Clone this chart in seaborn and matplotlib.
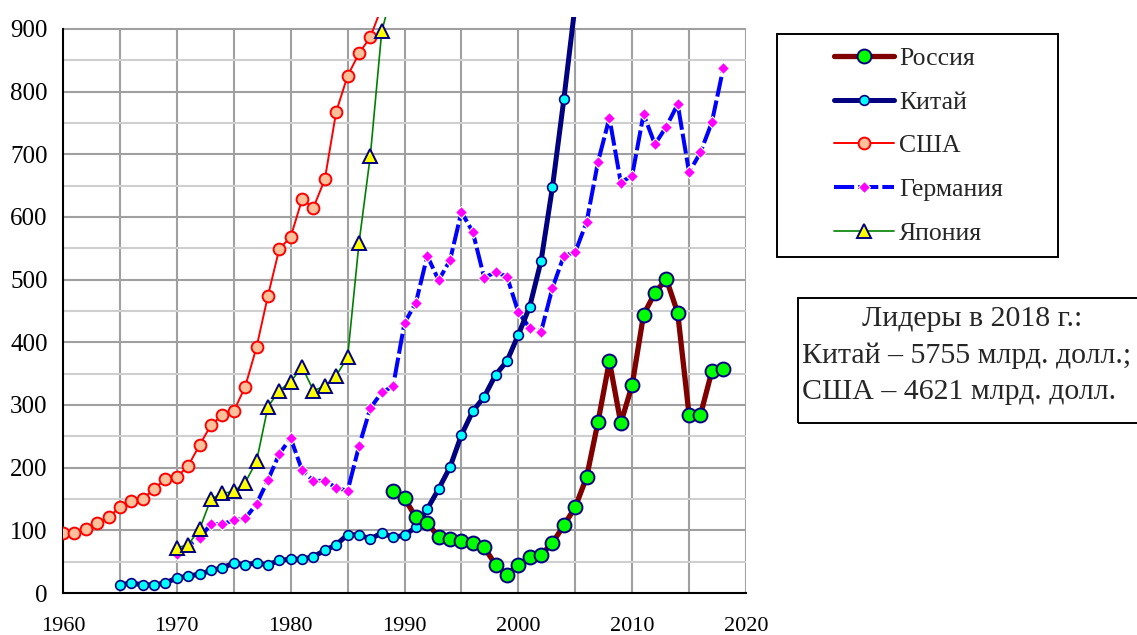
import numpy as np
import matplotlib
matplotlib.use("Agg")
import matplotlib.pyplot as plt
import seaborn as sns
from matplotlib.patches import Rectangle

# values (млрд. долл.)
years_russia = list(range(1989, 2019))
russia = [163, 151, 121, 112, 89, 86, 83, 80, 73, 45, 29, 45, 57, 61, 80,
          108, 137, 185, 273, 370, 271, 332, 444, 479, 501, 447, 284, 284, 354, 357]

years_china = list(range(1965, 2006))
china = [13, 16, 13, 13, 16, 24, 27, 30, 36, 40, 48, 45, 48, 45, 52, 54, 54, 58,
         68, 77, 93, 93, 86, 96, 89, 92, 105, 134, 166, 201, 252, 290, 313, 348,
         370, 412, 457, 530, 648, 788, 940]

years_usa = list(range(1960, 1989))
usa = [95, 96, 102, 112, 121, 137, 147, 150, 166, 182, 185, 203, 236, 268, 284,
       290, 329, 392, 474, 549, 568, 628, 615, 660, 768, 825, 861, 887, 935]

years_germany = list(range(1970, 2019))
germany = [62, 75, 88, 110, 110, 116, 119, 142, 180, 222, 247, 196, 179, 179, 168,
           163, 234, 295, 320, 330, 431, 463, 538, 499, 531, 608, 576, 503, 512,
           505, 448, 423, 417, 487, 538, 544, 592, 688, 758, 655, 666, 764, 716,
           744, 780, 671, 703, 751, 837]

years_japan = list(range(1970, 1990))
japan = [72, 77, 102, 150, 159, 162, 176, 210, 297, 323, 337, 361, 323, 330, 347,
         376, 558, 698, 896, 965]

legend_order = ["Россия", "Китай", "США", "Германия", "Япония"]

sns.set_style("white")
plt.rcParams['font.family'] = ['Liberation Serif', 'DejaVu Serif']

fig = plt.figure(figsize=(11.37, 6.35), dpi=100)
ax = fig.add_axes([63 / 1137, 1 - 593 / 635, (746 - 63) / 1137, (593 - 17.3) / 635])

# grid (stops at 900, like the reference plot area)
ax.vlines(np.arange(1965, 2021, 5), 0, 900, colors="#a0a0a0", lw=1.5, zorder=0)
ax.hlines(np.arange(100, 901, 100), 1960, 2020, colors="#a0a0a0", lw=1.5, zorder=0)
ax.hlines(np.arange(50, 900, 100), 1960, 2020, colors="#cfcfcf", lw=1.5, zorder=0)

sns.lineplot(x=years_usa, y=usa, ax=ax, color="#ff0000", lw=1.4, marker="o",
             markersize=8.5, markerfacecolor="#ffc09a", markeredgecolor="#ff0000",
             markeredgewidth=1.4, label="США", zorder=3)
sns.lineplot(x=years_germany, y=germany, ax=ax, color="#0000ff", lw=2.9,
             linestyle=(0, (5, 1)), marker="D", markersize=6,
             markerfacecolor="#ff00ff", markeredgecolor="white",
             markeredgewidth=0.8, label="Германия", zorder=4)
sns.lineplot(x=years_japan, y=japan, ax=ax, color="#008000", lw=1.2, marker="^",
             markersize=9.5, markerfacecolor="#ffff00", markeredgecolor="#000080",
             markeredgewidth=1.4, label="Япония", zorder=5)
sns.lineplot(x=years_china, y=china, ax=ax, color="#000080", lw=3.6, marker="o",
             markersize=7, markerfacecolor="#00ffff", markeredgecolor="#000080",
             markeredgewidth=1.2, label="Китай", zorder=6)
sns.lineplot(x=years_russia, y=russia, ax=ax, color="#800000", lw=3.8, marker="o",
             markersize=10, markerfacecolor="#00ff00", markeredgecolor="#000080",
             markeredgewidth=1.4, label="Россия", zorder=7)

handles, labels = ax.get_legend_handles_labels()
ax.get_legend().remove()
lookup = dict(zip(labels, handles))
fig.legend([lookup[k] for k in legend_order], legend_order, loc="upper left",
           bbox_to_anchor=(821 / 1137, 1 - 34 / 635), frameon=False,
           fontsize=18.5, borderpad=0, handlelength=2.33, handletextpad=0.2,
           labelspacing=0.81)
fig.patches.append(Rectangle((777 / 1137, 1 - 257 / 635), (1058 - 777) / 1137,
                             (257 - 34) / 635, transform=fig.transFigure,
                             fill=False, ec="black", lw=1.4))

# box with the 2018 leaders
fig.patches.append(Rectangle((798 / 1137, 1 - 423 / 635), (1145 - 798) / 1137,
                             (423 - 298) / 635, transform=fig.transFigure,
                             fill=False, ec="black", lw=1.4))
fig.text(972 / 1137, 1 - 319 / 635, "Лидеры в 2018 г.:", ha="center", va="center",
         fontsize=21.5)
fig.text(802 / 1137, 1 - 356 / 635, "Китай – 5755 млрд. долл.;", ha="left",
         va="center", fontsize=21.5)
fig.text(802 / 1137, 1 - 392 / 635, "США – 4621 млрд. долл.", ha="left",
         va="center", fontsize=21.5)

ax.set_xlim(1960, 2020)
ax.set_ylim(0, 918.6)
ax.set_xticks(range(1960, 2021, 10))
ax.set_yticks(range(0, 901, 100))
for side in ["top", "right"]:
    ax.spines[side].set_visible(False)
ax.spines["left"].set_bounds(0, 900)
ax.spines["bottom"].set_bounds(1960, 2020)
for side in ["left", "bottom"]:
    ax.spines[side].set_color("black")
    ax.spines[side].set_linewidth(1.5)
ax.tick_params(axis="both", direction="out", length=4.5, width=1.5, colors="black")
ax.tick_params(axis="y", pad=6.5, labelsize=18)
ax.tick_params(axis="x", pad=13, labelsize=16)
ax.set_xlabel("")
ax.set_ylabel("")

fig.savefig("out.png", dpi=100)
